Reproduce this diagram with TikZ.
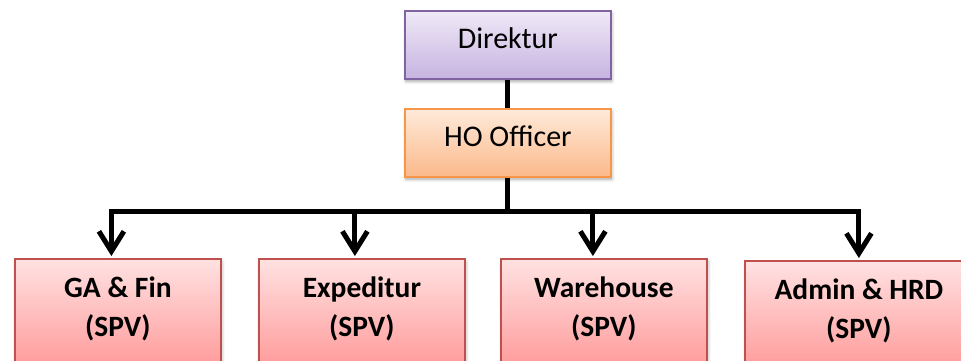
\documentclass[tikz,border=0pt]{standalone}
\usepackage{fontspec}
\setmainfont{Carlito}
\usetikzlibrary{arrows.meta,shadows.blur}

\definecolor{purpleline}{HTML}{8064A2}
\definecolor{purpletop}{HTML}{EFE9F7}
\definecolor{purplebot}{HTML}{C7B3E0}
\definecolor{orangeline}{HTML}{F79646}
\definecolor{orangetop}{HTML}{FFEADA}
\definecolor{orangebot}{HTML}{FBB98A}
\definecolor{redline}{HTML}{C0504D}
\definecolor{redtop}{HTML}{FFE2E2}
\definecolor{redbot}{HTML}{FF9898}

\tikzset{
  box/.style={draw, line width=1.8pt, inner sep=0pt, anchor=north west,
    blur shadow={shadow xshift=1pt, shadow yshift=-2.5pt,
      shadow blur radius=3pt, shadow blur steps=6, shadow opacity=35}},
  topbox/.style={box, minimum width=206pt, minimum height=68pt,
    font=\fontsize{30}{36}\selectfont, text height=21pt, text depth=13pt},
  purplebox/.style={topbox, draw=purpleline, top color=purpletop, bottom color=purplebot},
  orangebox/.style={topbox, draw=orangeline, top color=orangetop, bottom color=orangebot},
  unitbox/.style={box, minimum height=112pt, draw=redline,
    top color=redtop, bottom color=redbot},
  unittext/.style={font=\fontsize{29.5}{39}\selectfont\bfseries, align=center,
    inner sep=0pt, yshift=6pt},
  link/.style={line width=5pt},
  arr/.style={line width=5pt, shorten >=2pt,
    -{Straight Barb[length=20pt, width=25pt, line join=miter]}}
}

\begin{document}
\begin{tikzpicture}[x=1pt, y=-1pt]
  \useasboundingbox (0,0) rectangle (961,360);

  % management
  \node[purplebox] (dir) at (404,10) {Direktur};
  \node[orangebox] (ho) at (404,108) {HO Officer};

  % supervised units
  \node[unitbox, minimum width=206pt,
    label={[unittext]center:GA \& Fin\\(SPV)}] (ga) at (14,258) {};
  \node[unitbox, minimum width=206pt,
    label={[unittext]center:Expeditur\\(SPV)}] (exp) at (258,258) {};
  \node[unitbox, minimum width=206pt,
    label={[unittext]center:Warehouse\\(SPV)}] (wh) at (500,258) {};
  \node[unitbox, minimum width=228pt,
    label={[unittext]center:Admin \& HRD\\(SPV)}] (adm) at (744,260) {};

  % reporting lines
  \coordinate (bar) at (ho.south |- 0,211);
  \draw[link] (dir.south) -- (ho.north);
  \draw[link] (ho.south) -- (bar);
  \draw[arr] (bar) -| ([xshift=-6.5pt]ga.north);
  \draw[arr] (bar) -| ([xshift=-7pt]exp.north);
  \draw[arr] (bar) -| ([xshift=-11pt]wh.north);
  \draw[arr] (bar) -| ([xshift=0pt]adm.north);
\end{tikzpicture}
\end{document}
